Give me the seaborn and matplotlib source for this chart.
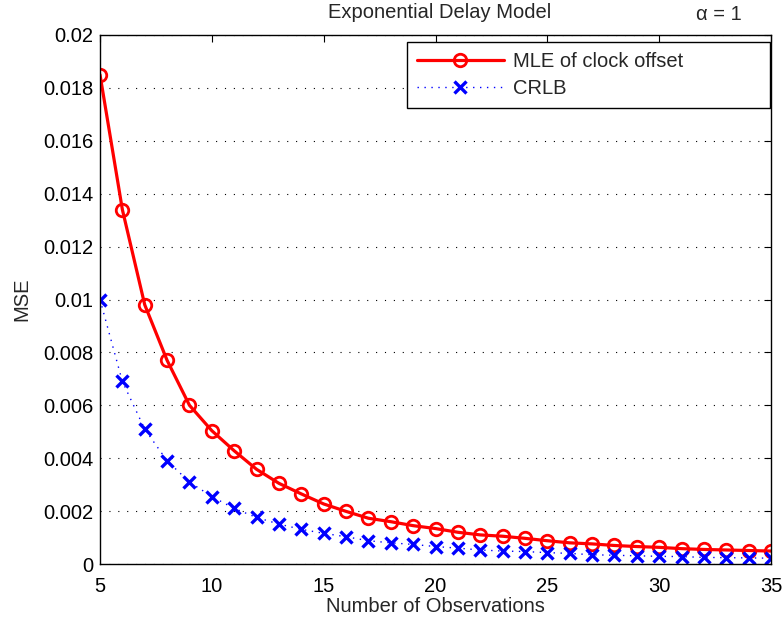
import numpy as np
import pandas as pd
import matplotlib
matplotlib.use("Agg")
import matplotlib.pyplot as plt
import seaborn as sns

observations = list(range(5, 36))
mle_mse = [0.0185, 0.0134, 0.0098, 0.0077, 0.0060, 0.00504, 0.00428, 0.00358, 0.00305,
           0.00265, 0.00227, 0.00199, 0.00173, 0.00160, 0.00145, 0.00134, 0.00120,
           0.00110, 0.00105, 0.00097, 0.00088, 0.00080, 0.00076, 0.00070, 0.00066,
           0.00063, 0.00058, 0.00055, 0.00053, 0.00051, 0.00049]
crlb_mse = [0.0100, 0.0069, 0.0051, 0.0039, 0.0031, 0.00255, 0.00210, 0.00176, 0.00151,
            0.00131, 0.00116, 0.00103, 0.00088, 0.00080, 0.00074, 0.00066, 0.00060,
            0.00053, 0.00049, 0.00047, 0.00043, 0.00040, 0.00035, 0.00033, 0.00031,
            0.00029, 0.00028, 0.00025, 0.00024, 0.00023, 0.00022]
xticks = [5, 10, 15, 20, 25, 30, 35]
yticks = [0, 0.002, 0.004, 0.006, 0.008, 0.01, 0.012, 0.014, 0.016, 0.018, 0.02]
ytick_labels = ["0", "0.002", "0.004", "0.006", "0.008", "0.01", "0.012", "0.014", "0.016", "0.018", "0.02"]

df = pd.DataFrame({"N": observations, "MLE": mle_mse, "CRLB": crlb_mse})

sns.set_theme(style="white")
plt.rcParams["font.family"] = ["Liberation Sans", "DejaVu Sans"]
plt.rcParams["xtick.direction"] = "in"
plt.rcParams["ytick.direction"] = "in"

FS = 14.5

fig = plt.figure(figsize=(7.82, 6.17), dpi=100)
# axes: left 100px, right 771px, top 35px, bottom 564px
ax = fig.add_axes([100 / 782, 53 / 617, 671 / 782, 529 / 617])

sns.lineplot(data=df, x="N", y="MLE", ax=ax, color="red", linewidth=2.3,
             marker="o", markersize=9, markerfacecolor="none",
             markeredgecolor="red", markeredgewidth=2.0,
             label="MLE of clock offset")
sns.lineplot(data=df, x="N", y="CRLB", ax=ax, color="blue", linewidth=1.0,
             linestyle=(0, (1, 4)), marker="x", markersize=8,
             markeredgecolor="blue", markeredgewidth=2.4,
             label="CRLB")

ax.set_xlim(5, 35)
ax.set_ylim(0, 0.02)
ax.set_xticks(xticks)
ax.set_xticklabels([str(t) for t in xticks])
ax.set_yticks(yticks)
ax.set_yticklabels(ytick_labels)
ax.tick_params(axis="both", labelsize=FS, length=5, width=0.8, colors="black",
               top=True, right=True)
ax.tick_params(axis="y", pad=5)
ax.tick_params(axis="x", pad=9)
ax.yaxis.grid(True, linestyle=(0, (1, 7)), color="black", linewidth=0.8)
ax.xaxis.grid(False)
for sp in ax.spines.values():
    sp.set_color("black")
    sp.set_linewidth(1.0)

ax.set_xlabel("Number of Observations", fontsize=FS, labelpad=1)
ax.set_ylabel("MSE", fontsize=FS, labelpad=8)
fig.text(440 / 782, 1 - 13 / 617, "Exponential Delay Model", ha="center", va="center", fontsize=FS)
fig.text(719 / 782, 1 - 15 / 617, "α = 1", ha="center", va="center", fontsize=FS)

leg = ax.legend(loc="upper left", fontsize=FS, frameon=True, fancybox=False,
                edgecolor="black", framealpha=1, borderpad=0.5,
                handlelength=4.3, handletextpad=0.45, labelspacing=0.42,
                mode="expand", borderaxespad=0,
                bbox_to_anchor=(0.4575, 0.8696, 0.5410, 0.1174))
leg.get_frame().set_linewidth(1.0)

fig.savefig("out.png", dpi=100)
